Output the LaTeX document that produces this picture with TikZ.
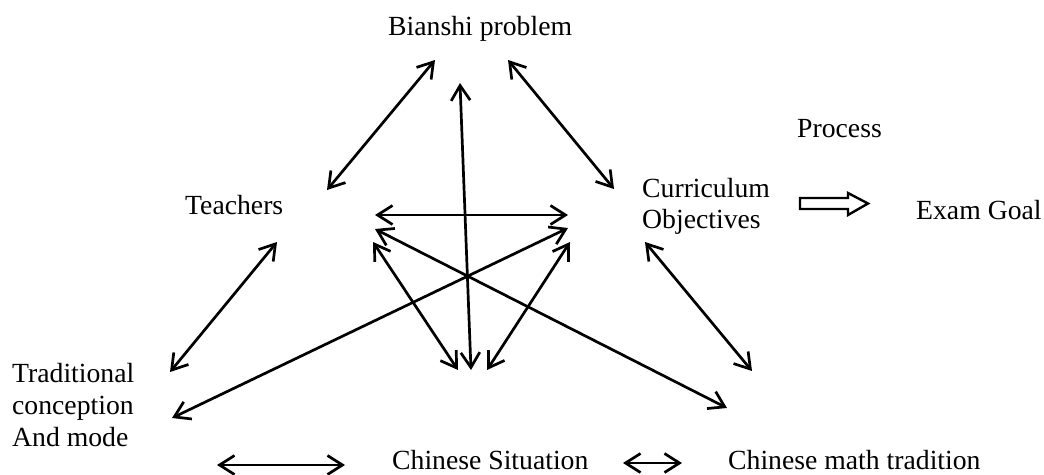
\documentclass[tikz,border=0pt]{standalone}
\usepackage{fontspec}
\setmainfont{Liberation Serif}
\usetikzlibrary{arrows.meta}
\begin{document}
\begin{tikzpicture}[x=1pt,y=-1pt,
  lbl/.style={anchor=base west,inner sep=0pt,font=\fontsize{27.7}{31}\selectfont},
  link/.style={line width=2.7pt,{Straight Barb[length=15pt,width=19pt]}-{Straight Barb[length=15pt,width=19pt]}},
  hollow/.style={line width=2.4pt,line join=miter,fill=white}]
\useasboundingbox (0,0) rectangle (1044,474);
% labels
\node[lbl] (bianshi) at (388,35) {Bianshi problem};
\node[lbl] (process) at (797,137) {Process};
\node[lbl] (teachers) at (185,214) {Teachers};
\node[lbl] (curr1) at (642,197) {Curriculum};
\node[lbl] (curr2) at (642,228) {Objectives};
\node[lbl] (exam) at (916,219) {Exam Goal};
\node[lbl] (trad1) at (12,382) {Traditional};
\node[lbl] (trad2) at (12,414) {conception};
\node[lbl] (trad3) at (12,446) {And mode};
\node[lbl] (situation) at (392,469) {Chinese Situation};
\node[lbl] (mathtrad) at (728,469) {Chinese math tradition};
% connector end points
\coordinate (bT) at (435,60);  \coordinate (tB) at (327,190);
\coordinate (bC) at (508,60);  \coordinate (cB) at (614,189);
\coordinate (bS) at (460,83);  \coordinate (sB) at (471,370);
\coordinate (hL) at (375,215); \coordinate (hR) at (568,215);
\coordinate (dUL) at (375,229); \coordinate (dLR) at (727,408);
\coordinate (dUR) at (568,228); \coordinate (dLL) at (172,418);
\coordinate (vLt) at (373,242); \coordinate (vLb) at (458,370);
\coordinate (vRt) at (570,242); \coordinate (vRb) at (487,370);
\coordinate (tTr) at (277,242); \coordinate (trT) at (170,372);
\coordinate (cM) at (645,242);  \coordinate (mC) at (752,371);
\coordinate (b1L) at (217,465); \coordinate (b1R) at (345,465);
\coordinate (b2L) at (623,463); \coordinate (b2R) at (682,463);
% connectors
\draw[link] (tB) -- (bT);
\draw[link] (bC) -- (cB);
\draw[link] (sB) -- (bS);
\draw[link] (hL) -- (hR);
\draw[link] (dUL) -- (dLR);
\draw[link] (dUR) -- (dLL);
\draw[link] (vLt) -- (vLb);
\draw[link] (vRt) -- (vRb);
\draw[link] (tTr) -- (trT);
\draw[link] (cM) -- (mC);
\draw[link] (b1L) -- (b1R);
\draw[link] (b2L) -- (b2R);
% hollow arrow Curriculum -> Exam Goal
\coordinate (ha) at (800,198);
\draw[hollow] (ha) -- ++(48,0) -- ++(0,-5) -- ++(20,10.5) -- ++(-20,11.5) -- ++(0,-6) -- ++(-48,0) -- cycle;
\end{tikzpicture}
\end{document}
